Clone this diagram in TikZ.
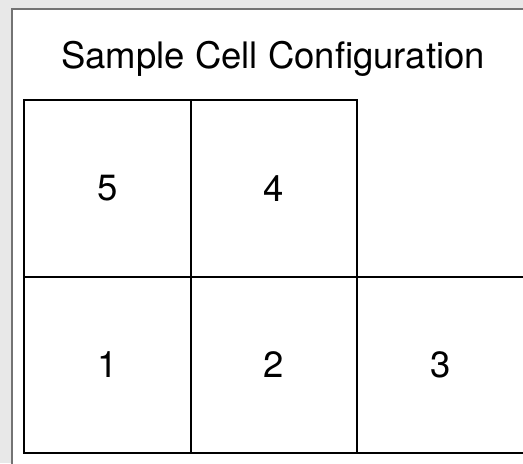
\documentclass[tikz,border=0pt]{standalone}
\usepackage{fontspec}
\setmainfont{TeX Gyre Heros}
\usetikzlibrary{positioning}
\begin{document}
\begin{tikzpicture}[x=0.5pt,y=-0.5pt]
\tikzset{cell/.style={rectangle,draw,line width=1pt,minimum width=83.25pt,minimum height=88.25pt,inner sep=0pt,outer sep=0pt,font=\fontsize{18.25}{20}\selectfont}}
\tikzset{title/.style={font=\fontsize{18.25}{20}\selectfont}}

% window frame
\useasboundingbox (0,0) rectangle (523,463);
\fill[black!9] (0,0) rectangle (523,463);
\fill[white] (12,9) rectangle (530,470);
\draw[black!55, line width=0.75pt] (12,470) -- (12,9) -- (530,9);

\node[title, anchor=base] (ttl) at (273,68) {Sample Cell Configuration};

\node[cell, anchor=north west] (c5) at (24,100) {5};
\node[cell, right=0pt of c5] (c4) {4};
\node[cell, below=0pt of c5] (c1) {1};
\node[cell, right=0pt of c1] (c2) {2};
\node[cell, right=0pt of c2] (c3) {3};
\end{tikzpicture}
\end{document}
